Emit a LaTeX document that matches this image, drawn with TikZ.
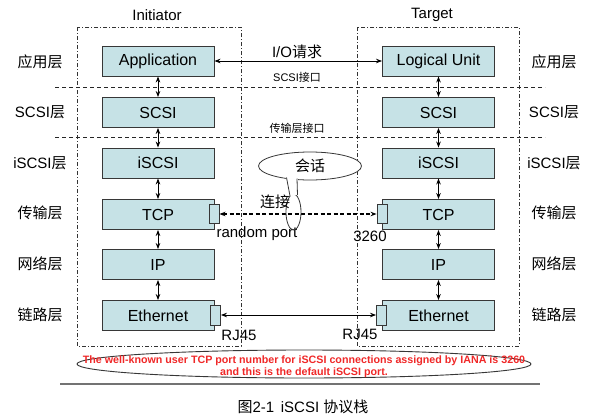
\documentclass[tikz,border=0pt]{standalone}
\usepackage{fontspec}
\setmainfont{Liberation Sans}
\newfontfamily\cjk{Noto Sans CJK SC}
\usetikzlibrary{arrows.meta,shapes.geometric}
\definecolor{boxfill}{RGB}{198,226,230}
\definecolor{boxline}{RGB}{55,55,55}
\definecolor{notered}{RGB}{240,40,40}
\tikzset{
 layerbox/.style={draw=boxline, fill=boxfill, line width=0.9pt, minimum width=112pt, minimum height=30pt, inner sep=0pt, font=\fontsize{16}{18}\selectfont},
 portbox/.style={draw=boxline, fill=boxfill, line width=0.9pt, minimum width=10pt, minimum height=19pt, inner sep=0pt},
 dbl/.style={line width=0.8pt, {Stealth[length=6pt,width=4.5pt]}-{Stealth[length=6pt,width=4.5pt]}},
 framebox/.style={dash pattern=on 4pt off 2pt on 1pt off 2pt, line width=0.7pt, draw=black!80},
 sepline/.style={dash pattern=on 4pt off 3pt, line width=0.8pt, draw=black!85},
 lbl/.style={font=\fontsize{15}{17}\selectfont, inner sep=0pt},
 small/.style={font=\fontsize{11}{13}\selectfont, inner sep=0pt},
 note/.style={font=\bfseries\fontsize{10.7}{12}\selectfont, text=notered, inner sep=0pt},
}
\begin{document}
\begin{tikzpicture}[x=1pt,y=-1pt]
\useasboundingbox[fill=white] (0,0) rectangle (603,418);
% frames
\draw[framebox] (77,27) rectangle (241,346);
\draw[framebox] (357,27) rectangle (519,346);
\draw[sepline] (55,87) -- (545,87);
\draw[sepline] (55,137) -- (545,137);
\node[lbl] (tinit) at (157,15) {Initiator};
\node[lbl] (ttarg) at (432,15) {Target};
% boxes left
\node[layerbox] (a1) at (158,61) {Application};
\node[layerbox] (a2) at (158,112.5) {SCSI};
\node[layerbox] (a3) at (158,163) {iSCSI};
\node[layerbox] (a4) at (158,214.5) {TCP};
\node[layerbox] (a5) at (158,264.5) {IP};
\node[layerbox] (a6) at (158,315.5) {Ethernet};
% boxes right
\node[layerbox] (b1) at (438.5,61) {Logical Unit};
\node[layerbox] (b2) at (438.5,112.5) {SCSI};
\node[layerbox] (b3) at (438.5,163) {iSCSI};
\node[layerbox] (b4) at (438.5,214.5) {TCP};
\node[layerbox] (b5) at (438.5,264.5) {IP};
\node[layerbox] (b6) at (438.5,315.5) {Ethernet};
% ports
\node[portbox] (pl1) at (214,214) {};
\node[portbox] (pr1) at (382,214) {};
\node[portbox, minimum height=20pt] (pl2) at (215.5,315) {};
\node[portbox, minimum height=20pt] (pr2) at (381.5,315) {};
% vertical arrows
\foreach \i/\j in {1/2,2/3,3/4,4/5,5/6}{
  \draw[dbl] (a\i.south) -- (a\j.north);
  \draw[dbl] (b\i.south) -- (b\j.north);
}
% horizontal connections
\draw[dbl] (a1.east) -- (b1.west);
\draw[dbl, dash pattern=on 4pt off 2.5pt, line width=1.2pt] (pl1.east) -- (pr1.west);
\draw[dbl] (pl2.east) -- (pr2.west);
% layer labels
\foreach \y/\t [count=\k] in {62/{{\cjk 应用层}},112/{SCSI{\cjk 层}},163/{iSCSI{\cjk 层}},213/{{\cjk 传输层}},264/{{\cjk 网络层}},315/{{\cjk 链路层}}}{
  \node[lbl] (l\k) at (40,\y) {\t};
  \node[lbl] (r\k) at (554,\y) {\t};
}
% interface labels
\node[lbl] (io) at (297,52) {I/O{\cjk 请求}};
\node[small] (scsiif) at (297,77) {SCSI{\cjk 接口}};
\node[small] (transif) at (297,128) {\cjk 传输层接口};
\node[lbl] (rport) at (257,234) {random port};
\node[lbl] (p3260) at (370,236) {3260};
\node[lbl] (rj1) at (239,335) {RJ45};
\node[lbl] (rj2) at (360,334) {RJ45};
% callout
\node[ellipse, draw=boxline, fill=white, line width=0.8pt, minimum width=103pt, minimum height=28pt, inner sep=0pt, font=\cjk\fontsize{15}{17}\selectfont] (sess) at (310,166) {会话};
\node[ellipse, draw=boxline, line width=0.8pt, minimum width=15pt, minimum height=36pt, inner sep=0pt] (conn) at (293.5,212) {};
\coordinate (t1) at (286.5,177.5);
\coordinate (t2) at (297,178.5);
\coordinate (t3) at (290,196);
\coordinate (t4) at (297.5,195);
\fill[white] (285.5,176) -- (298,176) -- (t4) -- (t3) -- cycle;
\draw[boxline, line width=0.8pt] (t1) -- (t3);
\draw[boxline, line width=0.8pt] (t2) -- (t4);
\node[lbl, font=\cjk\fontsize{15}{17}\selectfont] (lj) at (275,202) {连接};
% note
\node[ellipse, draw=boxline, line width=0.9pt, minimum width=454pt, minimum height=28pt, inner sep=0pt] (noteell) at (304,364) {};
\node[note] (n1) at (304,361) {The well-known user TCP port number for iSCSI connections assigned by IANA is 3260};
\node[note] (n2) at (304,373) {and this is the default iSCSI port.};
\draw[black!55, line width=1.6pt] (60,384) -- (540,384);
\node[lbl] (cap) at (303,407) {{\cjk 图}2-1\, iSCSI {\cjk 协议栈}};
\end{tikzpicture}
\end{document}
